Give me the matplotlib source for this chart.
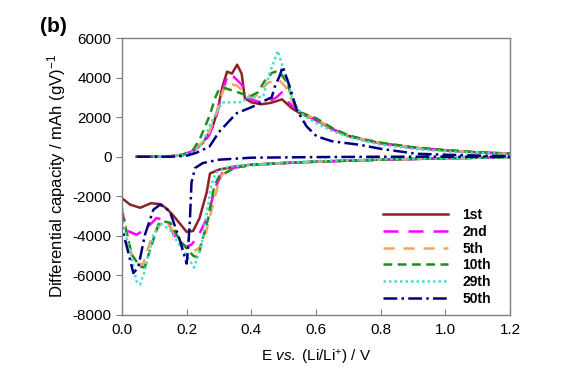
# plot.py
# differential capacity curves (dQ/dV) for several cycles

import matplotlib
matplotlib.use('Agg')
import matplotlib.pyplot as plt

plt.rcParams['font.family'] = ['Liberation Sans', 'DejaVu Sans']
plt.rcParams['mathtext.fontset'] = 'custom'
plt.rcParams['mathtext.rm'] = 'Liberation Sans'
plt.rcParams['mathtext.it'] = 'Liberation Sans:italic'
plt.rcParams['mathtext.bf'] = 'Liberation Sans:bold'
plt.rcParams['axes.unicode_minus'] = False

labels = ['1st', '2nd', '5th', '10th', '29th', '50th']

# upper branch (charge) then lower branch (discharge), E in V, dQ/dV in mAh/(gV)
e_1st = [0.045, 0.10, 0.15, 0.19, 0.22, 0.25, 0.28, 0.295, 0.31, 0.325, 0.34, 0.356, 0.37, 0.38, 0.40, 0.43, 0.46, 0.495, 0.525, 0.55,
         0.60, 0.65, 0.70, 0.75, 0.80, 0.90, 1.00, 1.10, 1.20,
         1.20, 1.00, 0.80, 0.60, 0.50, 0.40, 0.35, 0.30, 0.272, 0.262, 0.25, 0.24, 0.22, 0.20, 0.16, 0.14, 0.12, 0.09, 0.056, 0.025, 0.0]
q_1st = [0, 0, 20, 80, 300, 700, 1500, 2300, 3500, 4300, 4200, 4650, 4200, 2950, 2750, 2650, 2720, 2900, 2450, 2200,
         1850, 1400, 1050, 850, 680, 460, 320, 220, 150,
         -30, -80, -150, -250, -320, -400, -500, -650, -850, -1800, -2500, -3100, -3750, -3800, -3000, -2650, -2400, -2350, -2580, -2420, -2100]

e_2nd = [0.045, 0.10, 0.15, 0.19, 0.22, 0.25, 0.27, 0.29, 0.31, 0.329, 0.345, 0.37, 0.396, 0.43, 0.46, 0.478, 0.494, 0.515, 0.55,
         0.60, 0.65, 0.70, 0.75, 0.80, 0.90, 1.00, 1.10, 1.20,
         1.20, 1.00, 0.80, 0.60, 0.50, 0.40, 0.35, 0.31, 0.29, 0.27, 0.257, 0.236, 0.215, 0.20, 0.17, 0.14, 0.107, 0.07, 0.045, 0.02, 0.0]
q_2nd = [0, 0, 20, 80, 280, 650, 1100, 1900, 3300, 4190, 4050, 3640, 2900, 2750, 2850, 3000, 3250, 2750, 2250,
         1850, 1400, 1050, 850, 680, 460, 320, 220, 150,
         -30, -80, -150, -250, -320, -420, -550, -830, -1500, -2680, -3300, -4000, -4440, -4550, -4250, -3250, -3100, -3700, -3940, -3770, -2840]

e_5th = [0.045, 0.10, 0.15, 0.19, 0.22, 0.25, 0.27, 0.29, 0.31, 0.323, 0.355, 0.38, 0.406, 0.43, 0.448, 0.484, 0.505, 0.53, 0.55,
         0.60, 0.65, 0.70, 0.75, 0.80, 0.90, 1.00, 1.10, 1.20,
         1.20, 1.00, 0.80, 0.60, 0.50, 0.40, 0.35, 0.31, 0.30, 0.28, 0.26, 0.24, 0.215, 0.19, 0.17, 0.148, 0.125, 0.10, 0.087, 0.065, 0.05, 0.03, 0.0]
q_5th = [0, 0, 20, 90, 300, 750, 1250, 2100, 3200, 3720, 3600, 3220, 2960, 3300, 3720, 3900, 3550, 2700, 2250,
         1900, 1420, 1070, 860, 700, 470, 320, 220, 150,
         -30, -80, -150, -250, -320, -420, -550, -900, -1230, -2500, -3800, -4600, -4850, -4500, -4100, -3500, -3270, -3900, -4300, -5450, -5400, -4950, -2600]

e_10th = [0.045, 0.10, 0.15, 0.19, 0.22, 0.24, 0.27, 0.29, 0.30, 0.318, 0.365, 0.396, 0.42, 0.44, 0.463, 0.475, 0.49, 0.51, 0.53, 0.55,
          0.60, 0.65, 0.70, 0.75, 0.80, 0.90, 1.00, 1.10, 1.20,
          1.20, 1.00, 0.80, 0.60, 0.50, 0.40, 0.35, 0.30, 0.285, 0.267, 0.25, 0.235, 0.22, 0.19, 0.18, 0.15, 0.125, 0.112, 0.087, 0.07, 0.056, 0.03, 0.0]
q_10th = [0, 0, 30, 120, 350, 860, 2040, 3050, 3400, 3470, 3220, 3050, 3250, 3800, 4230, 4300, 4230, 3750, 2800, 2250,
          1950, 1450, 1080, 870, 710, 480, 330, 230, 160,
          -30, -80, -150, -250, -320, -420, -550, -1000, -1500, -3100, -4100, -5100, -5000, -4440, -4280, -3350, -3250, -3430, -4690, -5600, -5550, -4950, -2830]

e_29th = [0.045, 0.10, 0.15, 0.19, 0.22, 0.25, 0.27, 0.297, 0.31, 0.32, 0.375, 0.385, 0.42, 0.437, 0.457, 0.482, 0.50, 0.52, 0.54, 0.56,
          0.60, 0.65, 0.70, 0.80, 0.90, 1.00, 1.10, 1.20,
          1.20, 1.00, 0.80, 0.60, 0.40, 0.33, 0.29, 0.275, 0.267, 0.246, 0.223, 0.20, 0.19, 0.148, 0.118, 0.097, 0.07, 0.056, 0.045, 0.03, 0.0]
q_29th = [0, 0, 20, 80, 250, 700, 1530, 2370, 2750, 2740, 2760, 3000, 3000, 3050, 4240, 5350, 4400, 3230, 2470, 2100,
          1700, 1300, 1000, 600, 400, 270, 190, 130,
          -30, -70, -130, -220, -400, -500, -800, -1500, -2400, -4440, -5600, -5000, -4780, -3690, -3350, -3940, -5790, -6460, -6300, -5120, -3180]

e_50th = [0.045, 0.10, 0.15, 0.20, 0.23, 0.27, 0.30, 0.34, 0.355, 0.406, 0.447, 0.463, 0.473, 0.489, 0.497, 0.52, 0.54, 0.571,
          0.602, 0.65, 0.736, 0.80, 0.91, 1.00, 1.10, 1.20,
          1.20, 0.80, 0.60, 0.40, 0.30, 0.25, 0.226, 0.215, 0.21, 0.205, 0.20, 0.18, 0.148, 0.118, 0.097, 0.071, 0.05, 0.035, 0.02, 0.0]
q_50th = [0, 0, 0, 50, 200, 500, 1250, 1950, 2200, 2540, 2880, 3000, 3550, 4140, 4560, 3480, 2370, 1530,
          1030, 780, 600, 400, 150, 100, 60, 20,
          0, 0, -20, -50, -150, -320, -570, -1300, -3200, -4500, -5400, -4280, -2760, -2420, -2680, -3940, -5610, -5880, -4870, -3600]

xs = [e_1st, e_2nd, e_5th, e_10th, e_29th, e_50th]
ys = [q_1st, q_2nd, q_5th, q_10th, q_29th, q_50th]
colors = ['#8B2323', '#FF00FF', '#F4A460', '#228B22', '#40E0D0', '#00007F']
styles = ['-', (0, (6, 4)), (0, (4.5, 3.5)), (0, (3.5, 2.2)), (0, (1, 1.2)), (0, (5.5, 1.7, 1, 1.7))]

fig = plt.figure(figsize=(5.85, 3.85), dpi=100)
ax = fig.add_axes([122 / 585, 1 - 315 / 385, (510 - 122) / 585, (315 - 38) / 385])

for x, y, c, ls, lab in zip(xs, ys, colors, styles, labels):
    ax.plot(x, y, color=c, linestyle=ls, linewidth=1.8, label=lab)

ax.set_xlim(0, 1.2)
ax.set_ylim(-8000, 6000)
ax.set_xticks([0.0, 0.2, 0.4, 0.6, 0.8, 1.0, 1.2])
ax.set_xticklabels(['0.0', '0.2', '0.4', '0.6', '0.8', '1.0', '1.2'])
ax.set_yticks(range(-8000, 6001, 2000))
ax.tick_params(axis='x', direction='in', length=4, labelsize=11, pad=6, color='#808080')
ax.tick_params(axis='y', direction='out', length=4, labelsize=11, color='#808080')
for s in ax.spines.values():
    s.set_color('#808080')
    s.set_linewidth(1.0)

ax.set_xlabel(r'$\mathrm{E}\ \mathit{vs.}\ \mathrm{(Li/Li^{+})\ /\ V}$', fontsize=11, labelpad=8)
ax.set_ylabel(r'Differential capacity / mAh (gV)$^{-1}$', fontsize=12, labelpad=3)

fig.text(40 / 585, 1 - 26 / 385, '(b)', fontsize=15, fontweight='bold', va='center')

leg = ax.legend(loc='upper left', bbox_to_anchor=(383 / 585, 1 - 208 / 385), bbox_transform=fig.transFigure,
                frameon=False, prop={'weight': 'bold', 'size': 10}, handlelength=4.7, handletextpad=1.0,
                labelspacing=0.2, borderpad=0, borderaxespad=0)

fig.savefig('out.png', dpi=100)
